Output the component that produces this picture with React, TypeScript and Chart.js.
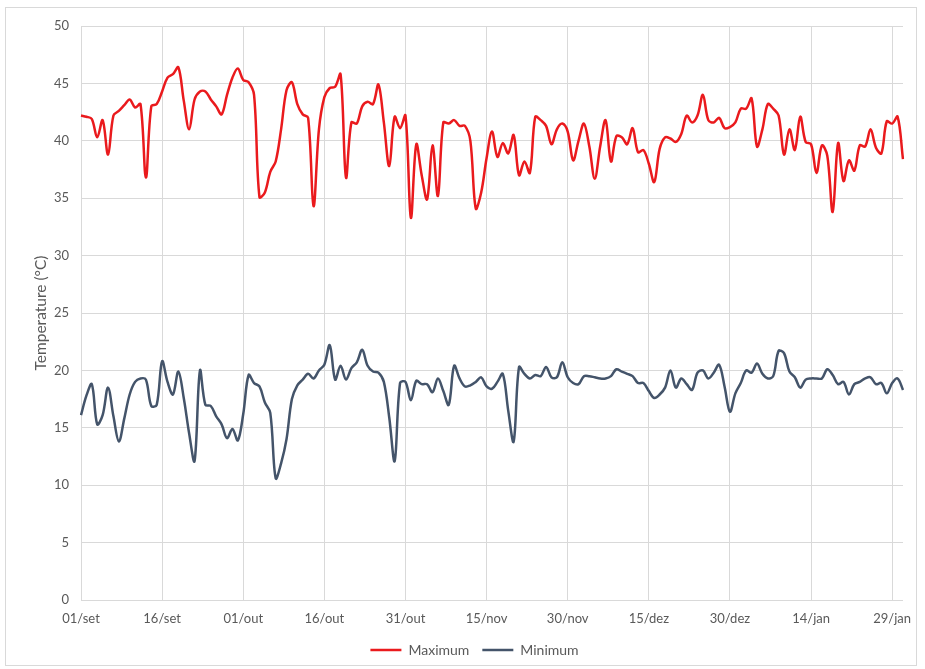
import React, { useEffect, useRef } from "react";
import { Chart, registerables } from "chart.js";

Chart.register(...registerables);

const monthNames = ["set", "out", "nov", "dez", "jan"];
const monthLengths = [30, 31, 30, 31, 31];
const dayLabels: string[] = [];
monthNames.forEach((m, i) => {
  for (let d = 1; d <= monthLengths[i]; d++) {
    dayLabels.push(String(d).padStart(2, "0") + "/" + m);
  }
});
const tickEvery = 15;

const maximum = [
  42.2, 42.1, 41.9, 40.3, 41.8, 38.8, 42.2, 42.6, 43.1, 43.6,
  42.9, 43.2, 36.8, 43.0, 43.2, 44.3, 45.5, 45.8, 46.4, 43.5,
  41.0, 43.6, 44.3, 44.3, 43.6, 43.0, 42.3, 44.0, 45.5, 46.3,
  45.3, 45.1, 44.0, 35.1, 35.5, 37.3, 38.2, 41.0, 44.4, 45.1,
  43.2, 42.3, 42.0, 34.3, 41.0, 43.8, 44.6, 44.7, 45.8, 36.8,
  41.6, 41.5, 43.0, 43.4, 43.2, 44.9, 41.6, 37.8, 42.1, 41.1,
  42.2, 33.3, 39.7, 37.0, 34.9, 39.6, 35.2, 41.6, 41.5, 41.8,
  41.3, 41.3, 40.0, 34.1, 35.5, 38.5, 40.8, 38.6, 39.8, 38.9,
  40.5, 37.0, 38.2, 37.2, 42.1, 41.8, 41.3, 39.7, 41.0, 41.5,
  40.8, 38.3, 40.0, 41.5, 39.5, 36.7, 39.5, 41.8, 38.2, 40.4,
  40.3, 39.7, 41.1, 39.0, 39.2, 38.0, 36.4, 39.3, 40.3, 40.2,
  39.9, 40.6, 42.2, 41.6, 42.2, 44.0, 41.8, 41.6, 42.0, 41.1,
  41.2, 41.6, 42.8, 42.8, 43.7, 39.5, 41.0, 43.2, 42.8, 42.2,
  38.8, 41.0, 39.2, 42.1, 39.9, 39.7, 37.2, 39.6, 38.7, 33.8,
  39.8, 36.5, 38.3, 37.4, 39.6, 39.5, 41.0, 39.4, 38.9, 41.7,
  41.5, 42.1, 38.4,
];

const minimum = [
  16.1, 17.8, 18.8, 15.3, 16.1, 18.5, 16.0, 13.8, 15.8, 17.9,
  19.0, 19.3, 19.2, 16.9, 17.0, 20.8, 19.0, 17.9, 19.9, 17.6,
  14.5, 12.1, 20.0, 17.0, 16.9, 16.0, 15.3, 14.1, 14.9, 13.9,
  16.2, 19.6, 18.9, 18.6, 17.2, 16.3, 10.6, 11.9, 14.0, 17.5,
  18.7, 19.2, 19.7, 19.3, 20.0, 20.5, 22.2, 19.2, 20.4, 19.2,
  20.2, 20.7, 21.8, 20.4, 19.9, 19.8, 19.0, 15.9, 12.1, 18.9,
  19.0, 17.4, 19.1, 18.8, 18.8, 18.1, 19.3, 18.2, 17.0, 20.4,
  19.3, 18.6, 18.7, 19.0, 19.4, 18.6, 18.4, 19.0, 19.7, 16.5,
  13.8, 20.3, 19.7, 19.3, 19.6, 19.5, 20.3, 19.4, 19.4, 20.7,
  19.4, 18.9, 18.8, 19.5, 19.5, 19.4, 19.3, 19.3, 19.5, 20.1,
  19.9, 19.7, 19.5, 18.9, 18.9, 18.2, 17.6, 17.9, 18.5, 20.0,
  18.5, 19.3, 18.8, 18.3, 19.8, 20.0, 19.3, 19.8, 20.5, 18.6,
  16.4, 18.0, 18.9, 20.0, 19.8, 20.6, 19.7, 19.3, 19.5, 21.7,
  21.5, 19.9, 19.4, 18.5, 19.2, 19.3, 19.3, 19.3, 20.1, 19.6,
  18.8, 19.0, 17.9, 18.8, 19.0, 19.3, 19.4, 18.8, 18.9, 18.0,
  18.9, 19.3, 18.3,
];

const RED = "#ea1a1d";
const SLATE = "#44546a";
const TEXT = "#595959";
const GRID = "#d9d9d9";
const FONT = "Lato, 'Open Sans', sans-serif";

const legendShift = {
  id: "legendShift",
  afterLayout(chart: any) {
    if (chart.legend) chart.legend.left += 14;
  },
};

export default function App() {
  const ref = useRef<HTMLCanvasElement | null>(null);
  useEffect(() => {
    if (!ref.current) return;
    const chart = new Chart(ref.current, {
      type: "line",
      data: {
        labels: dayLabels,
        datasets: [
          {
            label: "Maximum",
            data: maximum,
            borderColor: RED,
            backgroundColor: RED,
            borderWidth: 2.5,
            pointRadius: 0,
            tension: 0.35,
          },
          {
            label: "Minimum",
            data: minimum,
            borderColor: SLATE,
            backgroundColor: SLATE,
            borderWidth: 2.5,
            pointRadius: 0,
            tension: 0.35,
          },
        ],
      },
      options: {
        animation: false,
        responsive: true,
        maintainAspectRatio: false,
        layout: { padding: { left: 32, right: 22, top: 26, bottom: 2 } },
        plugins: {
          tooltip: { enabled: false },
          legend: {
            position: "bottom",
            labels: {
              usePointStyle: true,
              pointStyle: "line",
              pointStyleWidth: 31,
              boxHeight: 12,
              padding: 13,
              color: TEXT,
              font: { family: FONT, size: 14 },
            },
          },
        },
        scales: {
          x: {
            type: "category",
            grid: { color: GRID, drawTicks: false, lineWidth: 1 },
            border: { display: false },
            ticks: {
              autoSkip: false,
              maxRotation: 0,
              padding: 11,
              color: TEXT,
              font: { family: FONT, size: 13 },
              callback: (_v: any, i: number) =>
                i % tickEvery === 0 ? dayLabels[i] : null,
            },
            afterFit: (s: any) => {
              s.height = 30;
            },
          },
          y: {
            min: 0,
            max: 50,
            grid: { color: GRID, drawTicks: false },
            border: { display: false },
            ticks: {
              stepSize: 5,
              padding: 12,
              color: TEXT,
              font: { family: FONT, size: 13 },
            },
            title: {
              display: true,
              text: "Temperature (°C)",
              color: TEXT,
              font: { family: FONT, size: 15.5 },
              padding: 0,
            },
            afterFit: (s: any) => {
              s.width = 49;
            },
          },
        },
      },
      plugins: [legendShift],
    });
    return () => chart.destroy();
  }, []);

  return (
    <div style={{ position: "absolute", left: 0, top: 0, width: 925, height: 669 }}>
      <div
        style={{
          position: "absolute",
          left: 5,
          top: 7,
          width: 910,
          height: 657,
          border: "1px solid #d9d9d9",
          pointerEvents: "none",
        }}
      />
      <canvas ref={ref} />
    </div>
  );
}
